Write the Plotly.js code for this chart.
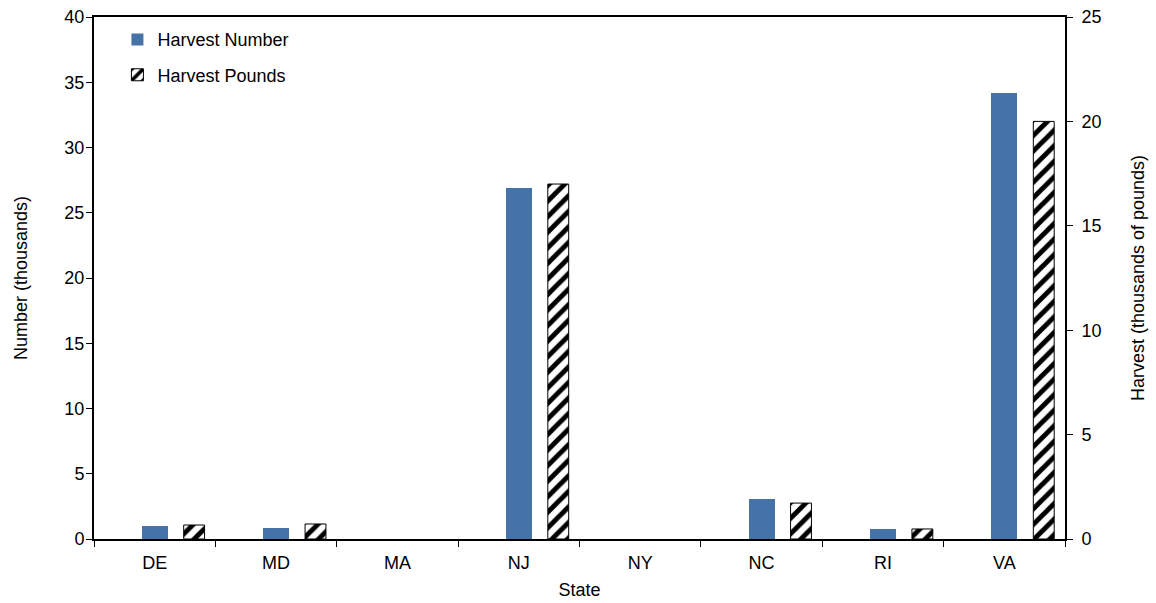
<!DOCTYPE html>
<html>
<head>
<meta charset="utf-8">
<script src="https://cdn.plot.ly/plotly-3.0.1.min.js"></script>
<style>html,body{margin:0;padding:0;background:#fff;}#chart{width:1156px;height:603px;}</style>
</head>
<body>
<div id="chart"></div>
<script>
var states = ["DE", "MD", "MA", "NJ", "NY", "NC", "RI", "VA"];
var harvestNumber = [1.0, 0.85, 0, 26.9, 0, 3.1, 0.75, 34.2];
var harvestPounds = [0.67, 0.72, 0, 17.0, 0, 1.72, 0.48, 20.0];

var font = {family: "Liberation Sans, Arial, sans-serif", size: 18, color: "#000"};

var traces = [
  {
    type: "bar", name: "Harvest Number", x: states, y: harvestNumber,
    yaxis: "y", offset: -0.107, width: 0.214,
    marker: {color: "#4572A7", line: {width: 0}},
    legendgroup: "a"
  },
  {
    type: "bar", name: "Harvest Pounds", x: states, y: harvestPounds,
    yaxis: "y2", offset: 0.239, width: 0.172,
    marker: {color: "#ffffff",
      line: {color: "#000", width: harvestPounds.map(function (v) { return v > 0 ? 1 : 0; })},
      pattern: {shape: "/", fgcolor: "#000", bgcolor: "#fff", size: 11, solidity: 0.45}},
    legendgroup: "b"
  }
];

var layout = {
  width: 1156, height: 603,
  margin: {l: 94, r: 91, t: 17, b: 64},
  paper_bgcolor: "#fff", plot_bgcolor: "#fff",
  font: font,
  showlegend: true,
  legend: {x: 0.02 + 4 / 971, y: 0.992, xanchor: "left", yanchor: "top", bgcolor: "rgba(0,0,0,0)",
    traceorder: "grouped", tracegroupgap: 9, font: font},
  bargap: 0,
  xaxis: {
    type: "category", showline: true, linecolor: "#000", linewidth: 2, mirror: true,
    ticks: "outside", tickson: "boundaries", ticklen: 6, tickcolor: "#000",
    ticklabelstandoff: 6,
    showgrid: false, zeroline: false,
    title: {text: "State", font: font, standoff: 12}
  },
  yaxis: {
    range: [0, 40], dtick: 5, showline: true, linecolor: "#000", linewidth: 2,
    ticks: "outside", ticklen: 6, tickcolor: "#000", showgrid: false, zeroline: false,
    ticklabelstandoff: -2,
    title: {text: "Number (thousands)", font: font, standoff: 32}
  },
  yaxis2: {
    range: [0, 25], dtick: 5, overlaying: "y", side: "right", showline: true,
    linecolor: "#000", linewidth: 2, ticks: "outside", ticklen: 6, tickcolor: "#000",
    ticklabelstandoff: 5,
    showgrid: false, zeroline: false,
    title: {text: "Harvest (thousands of pounds)", font: font, standoff: 31}
  }
};

Plotly.newPlot("chart", traces, layout, {displayModeBar: false, staticPlot: true});
</script>
</body>
</html>
